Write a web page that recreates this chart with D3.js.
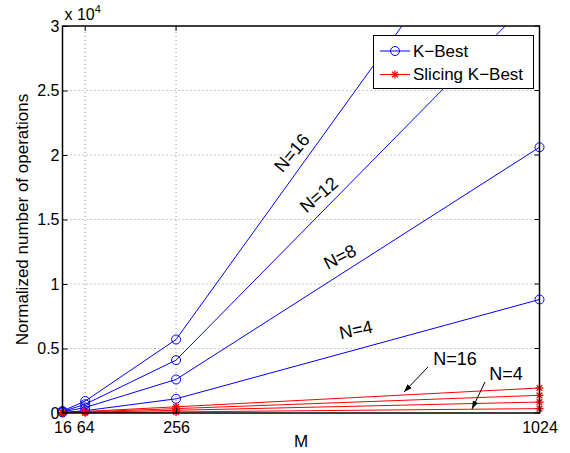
<!DOCTYPE html>
<html>
<head>
<meta charset="utf-8">
<script src="https://cdn.jsdelivr.net/npm/d3@7"></script>
<style>
  body { margin: 0; background: #fff; }
  text { font-family: "Liberation Sans", Arial, sans-serif; }
</style>
</head>
<body>
<svg id="viz" width="570" height="453"></svg>
<script>
var M = [16, 64, 256, 1024];
var xTicks = [16, 64, 256, 1024];
var yTicks = [0, 5000, 10000, 15000, 20000, 25000, 30000];
var yTickLabels = ["0", "0.5", "1", "1.5", "2", "2.5", "3"];

// K-Best, one row per N
var kbestN = [4, 8, 12, 16];
var kbest = [
  [40, 180, 1100, 8800],
  [80, 430, 2600, 20600],
  [110, 680, 4100, 32700],
  [150, 930, 5700, 44800]
];

// Slicing K-Best, one row per N
var slicingN = [4, 8, 12, 16];
var slicing = [
  [5, 21, 85, 340],
  [13, 52, 210, 850],
  [21, 85, 340, 1370],
  [30, 120, 480, 1940]
];

var svg = d3.select("#viz");
var margin = { left: 62.5, right: 30.5, top: 26, bottom: 40 };
var width = 570, height = 453;

var x = d3.scaleLinear().domain([16, 1024]).range([margin.left, width - margin.right]);
var y = d3.scaleLinear().domain([0, 30000]).range([height - margin.bottom, margin.top]);

var defs = svg.append("defs");
defs.append("clipPath").attr("id", "clip")
    .append("rect")
    .attr("x", x(16)).attr("y", y(30000))
    .attr("width", x(1024) - x(16)).attr("height", y(0) - y(30000));
defs.append("marker").attr("id", "arrow")
    .attr("viewBox", "0 0 10 10").attr("refX", 10).attr("refY", 5)
    .attr("markerWidth", 8).attr("markerHeight", 8).attr("orient", "auto")
    .append("path").attr("d", "M0,1.5L10,5L0,8.5z").attr("fill", "#000");

// grid
var grid = svg.append("g");
grid.selectAll("line.gx").data(xTicks.slice(1, -1)).enter().append("line")
    .attr("x1", d => x(d)).attr("x2", d => x(d))
    .attr("y1", y(0)).attr("y2", y(30000))
    .attr("stroke", "#999").attr("stroke-width", 1).attr("stroke-dasharray", "1,3");
grid.selectAll("line.gy").data(yTicks.slice(1, -1)).enter().append("line")
    .attr("y1", d => y(d)).attr("y2", d => y(d))
    .attr("x1", x(16)).attr("x2", x(1024))
    .attr("stroke", "#999").attr("stroke-width", 1).attr("stroke-dasharray", "1,3");

var line = d3.line().x((d, i) => x(M[i])).y(d => y(d));
var plot = svg.append("g").attr("clip-path", "url(#clip)");

// slicing (red) first, K-Best on top
slicing.forEach(function (s) {
    plot.append("path").attr("d", line(s)).attr("fill", "none").attr("stroke", "#ff0000").attr("stroke-width", 1);
});
kbest.forEach(function (s) {
    plot.append("path").attr("d", line(s)).attr("fill", "none").attr("stroke", "#0000ff").attr("stroke-width", 1);
});

function star(g, cx, cy, color) {
    var r = 4;
    [0, 45, 90, 135].forEach(function (a) {
        var rad = a * Math.PI / 180;
        g.append("line")
            .attr("x1", cx - r * Math.cos(rad)).attr("y1", cy - r * Math.sin(rad))
            .attr("x2", cx + r * Math.cos(rad)).attr("y2", cy + r * Math.sin(rad))
            .attr("stroke", color).attr("stroke-width", 1.3);
    });
}

var marks = svg.append("g");
kbest.forEach(function (s) {
    s.forEach(function (v, i) {
        if (v > 30000) return;
        marks.append("circle").attr("cx", x(M[i])).attr("cy", y(v)).attr("r", 4.5)
            .attr("fill", "none").attr("stroke", "#0000ff").attr("stroke-width", 1);
    });
});
slicing.forEach(function (s) {
    s.forEach(function (v, i) { star(marks, x(M[i]), y(v), "#ff0000"); });
});

// axes frame
svg.append("rect")
    .attr("x", x(16)).attr("y", y(30000))
    .attr("width", x(1024) - x(16)).attr("height", y(0) - y(30000))
    .attr("fill", "none").attr("stroke", "#000").attr("stroke-width", 1.5);

var xAxis = svg.append("g").attr("transform", "translate(0," + y(0) + ")")
    .call(d3.axisBottom(x).tickValues(xTicks).tickSize(-5).tickPadding(9).tickFormat(d3.format("d")));
var yAxis = svg.append("g").attr("transform", "translate(" + x(16) + ",0)")
    .call(d3.axisLeft(y).tickValues(yTicks).tickSize(-5).tickPadding(3).tickFormat((d, i) => yTickLabels[i]));
[xAxis, yAxis].forEach(function (a) {
    a.select(".domain").remove();
    a.selectAll("text").attr("font-size", 16).attr("fill", "#000")
        .style("font-family", "Liberation Sans, Arial, sans-serif");
});
// ticks on top / right too
svg.append("g").selectAll("line").data(xTicks).enter().append("line")
    .attr("x1", d => x(d)).attr("x2", d => x(d)).attr("y1", y(30000)).attr("y2", y(30000) + 5)
    .attr("stroke", "#000");
svg.append("g").selectAll("line").data(yTicks).enter().append("line")
    .attr("y1", d => y(d)).attr("y2", d => y(d)).attr("x1", x(1024)).attr("x2", x(1024) - 5)
    .attr("stroke", "#000");

// exponent
var ex = svg.append("text").attr("x", x(16) + 2).attr("y", 20).attr("font-size", 16);
ex.append("tspan").text("x 10");
ex.append("tspan").attr("dy", -7).attr("font-size", 11).text("4");

// axis titles
svg.append("text").attr("x", (x(16) + x(1024)) / 2).attr("y", 447)
    .attr("text-anchor", "middle").attr("font-size", 17).text("M");
svg.append("text").attr("transform", "translate(28," + ((y(0) + y(30000)) / 2) + ") rotate(-90)")
    .attr("text-anchor", "middle").attr("font-size", 17).text("Normalized number of operations");

// curve labels
var curveLabels = [
    { t: "N=16", x: 292, y: 153, a: -50 },
    { t: "N=12", x: 319, y: 195, a: -41 },
    { t: "N=8", x: 340, y: 257, a: -27 },
    { t: "N=4", x: 356, y: 330, a: -12 }
];
curveLabels.forEach(function (d) {
    svg.append("text").attr("transform", "translate(" + d.x + "," + d.y + ") rotate(" + d.a + ")")
        .attr("text-anchor", "middle").attr("dominant-baseline", "central")
        .attr("font-size", 18).text(d.t);
});
svg.append("text").attr("x", 455).attr("y", 365).attr("text-anchor", "middle").attr("font-size", 18).text("N=16");
svg.append("text").attr("x", 506).attr("y", 380).attr("text-anchor", "middle").attr("font-size", 18).text("N=4");
svg.append("line").attr("x1", 428).attr("y1", 367).attr("x2", 404).attr("y2", 392)
    .attr("stroke", "#000").attr("marker-end", "url(#arrow)");
svg.append("line").attr("x1", 485).attr("y1", 382).attr("x2", 472).attr("y2", 409)
    .attr("stroke", "#000").attr("marker-end", "url(#arrow)");

// legend
var lg = svg.append("g");
lg.append("rect").attr("x", 373.5).attr("y", 35.5).attr("width", 160).attr("height", 53)
    .attr("fill", "#fff").attr("stroke", "#000").attr("stroke-width", 1);
var legendItems = [
    { t: "K\u2212Best", c: "#0000ff", m: "o" },
    { t: "Slicing K\u2212Best", c: "#ff0000", m: "*" }
];
legendItems.forEach(function (d, i) {
    var ly = 51 + i * 23.5;
    lg.append("line").attr("x1", 380).attr("x2", 410).attr("y1", ly).attr("y2", ly).attr("stroke", d.c);
    if (d.m === "o") {
        lg.append("circle").attr("cx", 395).attr("cy", ly).attr("r", 4.5).attr("fill", "none").attr("stroke", d.c);
    } else {
        star(lg, 395, ly, d.c);
    }
    lg.append("text").attr("x", 413).attr("y", ly).attr("dominant-baseline", "central")
        .attr("font-size", 17).text(d.t);
});
</script>
</body>
</html>
